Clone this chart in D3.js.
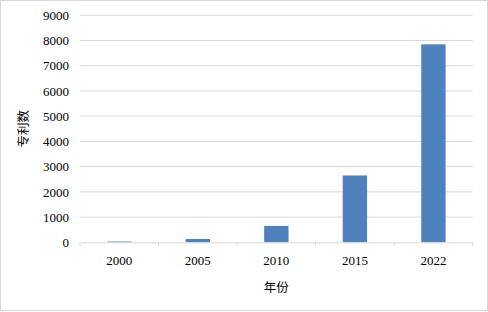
<!DOCTYPE html>
<html>
<head>
<meta charset="utf-8">
<script src="https://cdn.jsdelivr.net/npm/d3@7"></script>
<style>
  body { margin: 0; background: #fff; }
  svg text { font-family: "Times New Roman", "Liberation Serif", "DejaVu Serif", serif; fill: #000; }
  svg text.cjk { font-family: "Noto Sans CJK SC", sans-serif; }
</style>
</head>
<body>
<svg width="488" height="312"></svg>
<script>
// years and patent counts
const years = ["2000", "2005", "2010", "2015", "2022"]
const patents = [30, 130, 650, 2650, 7850]
const yTicks = [0, 1000, 2000, 3000, 4000, 5000, 6000, 7000, 8000, 9000]

const svg = d3.select("svg")

svg.append("rect")
    .attr("x", 0.5).attr("y", 0.5)
    .attr("width", 487).attr("height", 310)
    .attr("fill", "#fff")
    .attr("stroke", "#d9d9d9")

const plotLeft = 80, plotRight = 472.7, plotTop = 15.3, plotBottom = 242.3

const x = d3.scaleBand()
    .domain(years)
    .range([plotLeft, plotRight])
    .padding(0)

const y = d3.scaleLinear()
    .domain([0, 9000])
    .range([plotBottom, plotTop])

// gridlines
svg.append("g")
    .selectAll("line")
    .data(yTicks.slice(1))
    .enter()
    .append("line")
    .attr("x1", plotLeft).attr("x2", plotRight)
    .attr("y1", d => y(d)).attr("y2", d => y(d))
    .attr("stroke", "#d9d9d9")

// y axis labels
const yAxis = svg.append("g")
    .attr("transform", "translate(" + (plotLeft - 11) + ",0)")
    .call(d3.axisLeft(y).tickValues(yTicks).tickFormat(d3.format("d")).tickSize(0).tickPadding(0))
yAxis.attr("font-family", null).attr("font-size", null)
yAxis.select(".domain").remove()
yAxis.selectAll("text")
    .style("font-size", "13px")
    .attr("fill", "#000")

// bars
const barW = x.bandwidth() * 0.31
svg.append("g")
    .selectAll("rect")
    .data(patents)
    .enter()
    .append("rect")
    .attr("x", (d, i) => x(years[i]) + (x.bandwidth() - barW) / 2)
    .attr("width", barW)
    .attr("y", d => y(d))
    .attr("height", d => plotBottom - y(d))
    .attr("fill", "#4f81bd")

// x axis
const xAxis = svg.append("g")
    .attr("transform", "translate(0," + plotBottom + ")")
    .call(d3.axisBottom(x).tickSize(0).tickPadding(13))
xAxis.attr("font-family", null).attr("font-size", null)
xAxis.select(".domain").attr("stroke", "#d9d9d9")
xAxis.selectAll("text")
    .style("font-size", "13px")
    .attr("fill", "#000")

// small ticks on band boundaries
svg.append("g")
    .selectAll("line")
    .data(years.concat(["end"]))
    .enter()
    .append("line")
    .attr("x1", (d, i) => i < years.length ? x(d) : plotRight)
    .attr("x2", (d, i) => i < years.length ? x(d) : plotRight)
    .attr("y1", plotBottom).attr("y2", plotBottom + 4)
    .attr("stroke", "#d9d9d9")

// axis titles
svg.append("text")
    .attr("class", "cjk")
    .attr("transform", "translate(28," + ((plotTop + plotBottom) / 2) + ") rotate(-90)")
    .attr("text-anchor", "middle")
    .style("font-size", "12.5px")
    .text("专利数")

svg.append("text")
    .attr("class", "cjk")
    .attr("x", (plotLeft + plotRight) / 2)
    .attr("y", 292)
    .attr("text-anchor", "middle")
    .style("font-size", "12.5px")
    .text("年份")
</script>
</body>
</html>
